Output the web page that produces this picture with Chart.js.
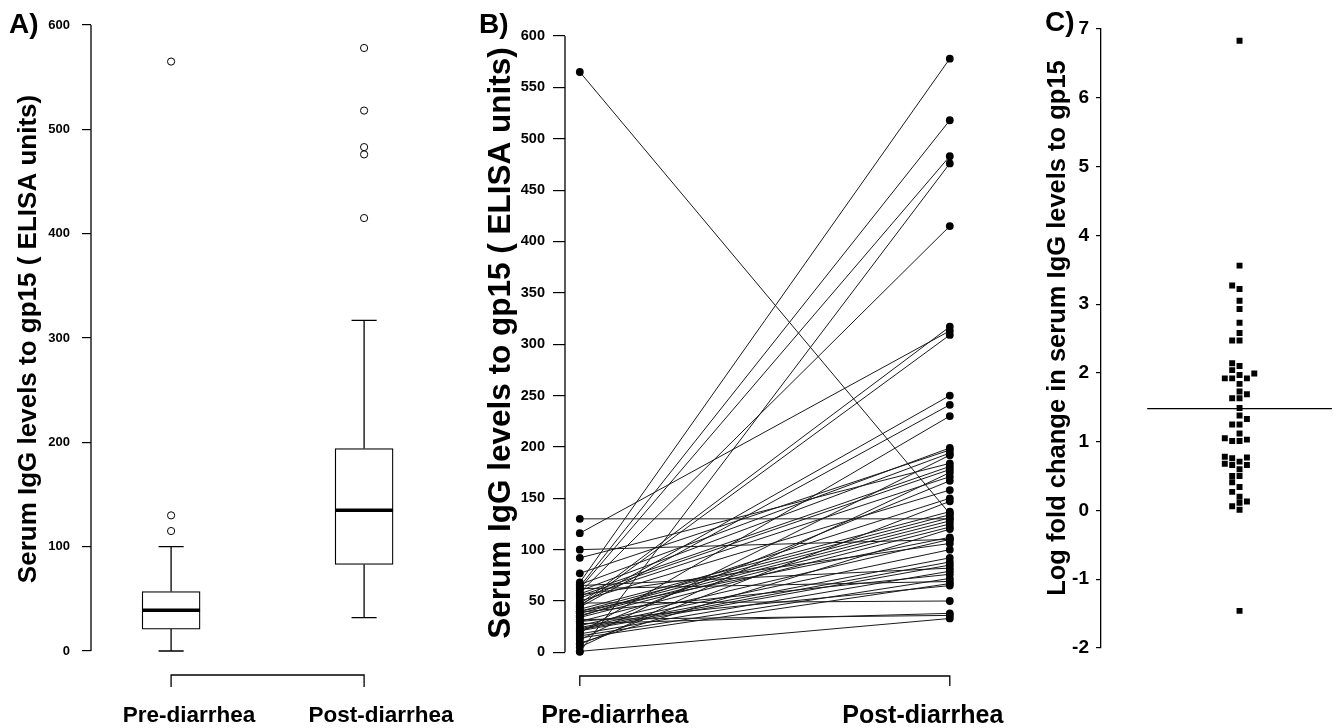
<!DOCTYPE html>
<html>
<head>
<meta charset="utf-8">
<script src="https://cdn.jsdelivr.net/npm/chart.js@4.4.1/dist/chart.umd.min.js"></script>
<style>
html,body{margin:0;padding:0;background:#fff;width:1342px;height:728px;overflow:hidden;}
canvas{position:absolute;top:0;}
</style>
</head>
<body>
<canvas id="cA" width="470" height="728" style="left:0;width:470px;height:728px"></canvas>
<canvas id="cB" width="560" height="728" style="left:470px;width:560px;height:728px"></canvas>
<canvas id="cC" width="342" height="728" style="left:1000px;width:342px;height:728px"></canvas>
<script>
// ---------- data ----------
const categories = ['Pre-diarrhea', 'Post-diarrhea'];

// Panel A: box statistics [min whisker, Q1, median, Q3, max whisker]
const boxPre  = [0, 21, 39, 57, 100];
const boxPost = [32, 83, 135, 194, 317];
const outliersPre  = [115, 130, 565];
const outliersPost = [415, 476, 483, 518, 578];
const ticksA = [0, 100, 200, 300, 400, 500, 600];

// Panel B: paired values (same index = same subject)
const preValues  = [565,130,116,100,92,77,68,64,62,0.5,58,47,45,46,44,19,66,60,12,57,55,5,53,20,50,35,8,42,40,38,36,34,30,9,40,26,56,24,23,22,21,65,18,39,16,62,14,30,48,28,32,1];
const postValues = [135,130,313,110,184,197,578,518,483,476,415,317,309,250,241,230,199,194,192,181,178,175,171,167,158,150,147,137,134,131,128,125,122,120,112,110,106,100,92,88,85,82,79,76,72,69,67,65,50,38,36,33];
const ticksB = [0,50,100,150,200,250,300,350,400,450,500,550,600];

// Panel C: log fold change
const foldChange = [6.83,3.56,3.27,3.22,3.05,2.93,2.73,2.58,2.47,2.47,2.14,2.10,2.04,1.99,1.97,1.92,1.92,1.92,1.84,1.73,1.69,1.63,1.63,1.49,1.38,1.33,1.25,1.25,1.12,1.05,1.03,1.01,1.01,0.78,0.77,0.76,0.71,0.68,0.66,0.66,0.60,0.50,0.50,0.41,0.34,0.27,0.20,0.13,0.11,0.06,0.01,-1.46];
const foldMean = 1.48;
const ticksC = [-2,-1,0,1,2,3,4,5,6,7];

const titleAB = 'Serum IgG levels to gp15 ( ELISA units)';
const titleC  = 'Log fold change in serum IgG levels to gp15';

// ---------- styling / layout ----------
const FONT = '"Liberation Sans", Arial, Helvetica, sans-serif';
Chart.defaults.font.family = FONT;
Chart.defaults.color = '#000';
Chart.defaults.animation = false;
Chart.defaults.plugins.legend.display = false;
Chart.defaults.plugins.tooltip.enabled = false;

function yScale(o) {
  return {
    type: 'linear', min: o.min, max: o.max,
    afterBuildTicks: s => { s.ticks = o.ticks.map(v => ({ value: v })); },
    afterFit: s => { s.width = o.width; },
    border: { display: o.border, color: '#000', width: 1.3 },
    grid: { drawOnChartArea: false, drawTicks: true, tickLength: o.tickLength, color: '#000', lineWidth: 1.2 },
    ticks: { color: '#000', padding: o.padding, font: { size: o.tickSize, weight: 'bold' } },
    title: { display: false }
  };
}

function decor(o) {
  return {
    id: 'decor' + o.key,
    afterDraw(chart) {
      const { ctx, chartArea: a, scales: { x, y } } = chart;
      ctx.save();
      ctx.strokeStyle = '#000';
      ctx.fillStyle = '#000';
      ctx.lineWidth = 1.3;
      if (o.axisLine) {
        ctx.beginPath();
        ctx.moveTo(a.left, y.getPixelForValue(o.axisLine[0]));
        ctx.lineTo(a.left, y.getPixelForValue(o.axisLine[1]));
        ctx.stroke();
      }
      if (o.bracket) {
        const x1 = x.getPixelForValue(1), x2 = x.getPixelForValue(2), yb = a.bottom;
        ctx.beginPath();
        ctx.moveTo(x1, yb + o.bracketTick); ctx.lineTo(x1, yb);
        ctx.lineTo(x2, yb); ctx.lineTo(x2, yb + o.bracketTick);
        ctx.stroke();
        ctx.font = 'bold ' + o.labelSize + 'px ' + FONT;
        ctx.textAlign = 'center';
        ctx.textBaseline = 'middle';
        ctx.fillText(categories[0], x1 + o.labelShift[0], o.labelY);
        ctx.fillText(categories[1], x2 + o.labelShift[1], o.labelY);
      }
      // y-axis title (rotated)
      ctx.save();
      ctx.translate(o.titleX, o.titleY);
      ctx.rotate(-Math.PI / 2);
      ctx.font = 'bold ' + o.titleSize + 'px ' + FONT;
      ctx.textAlign = 'center';
      ctx.textBaseline = 'middle';
      ctx.fillText(o.title, 0, 0);
      ctx.restore();
      // panel letter
      ctx.font = 'bold 28px ' + FONT;
      ctx.textAlign = 'left';
      ctx.textBaseline = 'alphabetic';
      ctx.fillText(o.letter, o.letterX, o.letterY);
      ctx.restore();
    }
  };
}

// ---------- Panel A: box plots ----------
const BOX_HALF = 0.15, CAP_HALF = 0.065;
function whiskers(stats, xv) {
  const [mn, q1, , q3, mx] = stats;
  return [
    { x: xv, y: q3 }, { x: xv, y: mx }, { x: xv, y: null },
    { x: xv - CAP_HALF, y: mx }, { x: xv + CAP_HALF, y: mx }, { x: xv, y: null },
    { x: xv, y: q1 }, { x: xv, y: mn }, { x: xv, y: null },
    { x: xv - CAP_HALF, y: mn }, { x: xv + CAP_HALF, y: mn }
  ];
}
const boxes = [boxPre, boxPost];
const dsA = [
  { type: 'bar', data: boxes.map((b, i) => ({ x: i + 1, y: [b[1], b[3]] })),
    backgroundColor: '#fff', borderColor: '#000', borderWidth: 1.3, borderSkipped: false,
    barThickness: 58, grouped: false, order: 3 },
  ...boxes.map((b, i) => ({ type: 'line', data: whiskers(b, i + 1), borderColor: '#000', borderWidth: 1.3,
    pointRadius: 0, spanGaps: false, order: 2 })),
  ...boxes.map((b, i) => ({ type: 'line', data: [{ x: i + 1 - BOX_HALF, y: b[2] }, { x: i + 1 + BOX_HALF, y: b[2] }],
    borderColor: '#000', borderWidth: 3.5, pointRadius: 0, order: 1 })),
  { type: 'scatter', data: [...outliersPre.map(v => ({ x: 1, y: v })), ...outliersPost.map(v => ({ x: 2, y: v }))],
    pointStyle: 'circle', pointRadius: 3.6, backgroundColor: '#fff', borderColor: '#000', borderWidth: 1, order: 0 }
];

new Chart(document.getElementById('cA'), {
  type: 'scatter',
  data: { datasets: dsA },
  options: {
    responsive: false, devicePixelRatio: 1,
    layout: { padding: { top: 24, bottom: 53, left: 0, right: 9.4 } },
    scales: {
      x: { type: 'linear', min: 0.585, max: 2.5, display: false, offset: false },
      y: yScale({ min: -23, max: 601, ticks: ticksA, width: 91, border: false, tickLength: 9, padding: 12, tickSize: 13 })
    }
  },
  plugins: [decor({ key: 'A', axisLine: [0, 600], bracket: true, bracketTick: 12, labelShift: [18, 17], labelY: 716,
                    labelSize: 22.5, title: titleAB, titleSize: 26, titleX: 29, titleY: 339,
                    letter: 'A)', letterX: 9, letterY: 33 })]
});

// ---------- Panel B: paired lines ----------
const dsB = preValues.map((p, i) => ({
  type: 'line',
  data: [{ x: 1, y: p }, { x: 2, y: postValues[i] }],
  borderColor: '#1a1a1a', borderWidth: 1,
  pointRadius: 3.9, pointBackgroundColor: '#000', pointBorderColor: '#000', pointBorderWidth: 0
}));

new Chart(document.getElementById('cB'), {
  type: 'scatter',
  data: { datasets: dsB },
  options: {
    responsive: false, devicePixelRatio: 1,
    layout: { padding: { top: 35, bottom: 52, left: 0, right: 65.4 } },
    scales: {
      x: { type: 'linear', min: 0.96, max: 2.04, display: false, offset: false },
      y: yScale({ min: -23, max: 601, ticks: ticksB, width: 95, border: false, tickLength: 12, padding: 8, tickSize: 14.5 })
    }
  },
  plugins: [decor({ key: 'B', axisLine: [0, 600], bracket: true, bracketTick: 10, labelShift: [35, -27], labelY: 716,
                    labelSize: 25, title: titleAB, titleSize: 31.5, titleX: 31, titleY: 343,
                    letter: 'B)', letterX: 9, letterY: 33 })]
});

// ---------- Panel C: swarm of fold changes ----------
const C_TOP = 29, C_BOTTOM = 648;
const C_PX_PER_Y = (C_BOTTOM - C_TOP) / (ticksC[ticksC.length - 1] - ticksC[0]);
const C_PX_PER_X = 100, SLOT_PX = 7.5, MIN_GAP = 6;
function swarmSlots(values) {
  const order = values.map((v, i) => i).sort((a, b) => values[a] - values[b]);
  const placed = [], slots = new Array(values.length).fill(0);
  for (const i of order) {
    const yp = values[i] * C_PX_PER_Y;
    for (let k = 0; k < 30; k++) {
      const s = k === 0 ? 0 : (k % 2 ? -Math.ceil(k / 2) : Math.ceil(k / 2));
      if (!placed.some(p => p.s === s && Math.abs(p.y - yp) < MIN_GAP)) {
        slots[i] = s; placed.push({ s, y: yp }); break;
      }
    }
  }
  return slots;
}
const slots = swarmSlots(foldChange);

new Chart(document.getElementById('cC'), {
  type: 'scatter',
  data: {
    datasets: [
      { type: 'scatter', data: foldChange.map((v, i) => ({ x: slots[i] * SLOT_PX / C_PX_PER_X, y: v })),
        pointStyle: 'rect', pointRadius: 4.2, backgroundColor: '#000', borderColor: '#000', borderWidth: 0 },
      { type: 'line', data: [{ x: -0.94, y: foldMean }, { x: 0.94, y: foldMean }],
        borderColor: '#000', borderWidth: 1.3, pointRadius: 0 }
    ]
  },
  options: {
    responsive: false, devicePixelRatio: 1,
    layout: { padding: { top: C_TOP, bottom: 728 - C_BOTTOM, left: 0, right: 0 } },
    scales: {
      x: { type: 'linear', min: -1.41, max: 1.0, display: false, offset: false },
      y: yScale({ min: -2, max: 7, ticks: ticksC, width: 101, border: true, tickLength: 5, padding: 7, tickSize: 19 })
    }
  },
  plugins: [decor({ key: 'C', bracket: false, title: titleC, titleSize: 25.5, titleX: 58, titleY: 328,
                    letter: 'C)', letterX: 45, letterY: 31 })]
});
</script>
</body>
</html>
